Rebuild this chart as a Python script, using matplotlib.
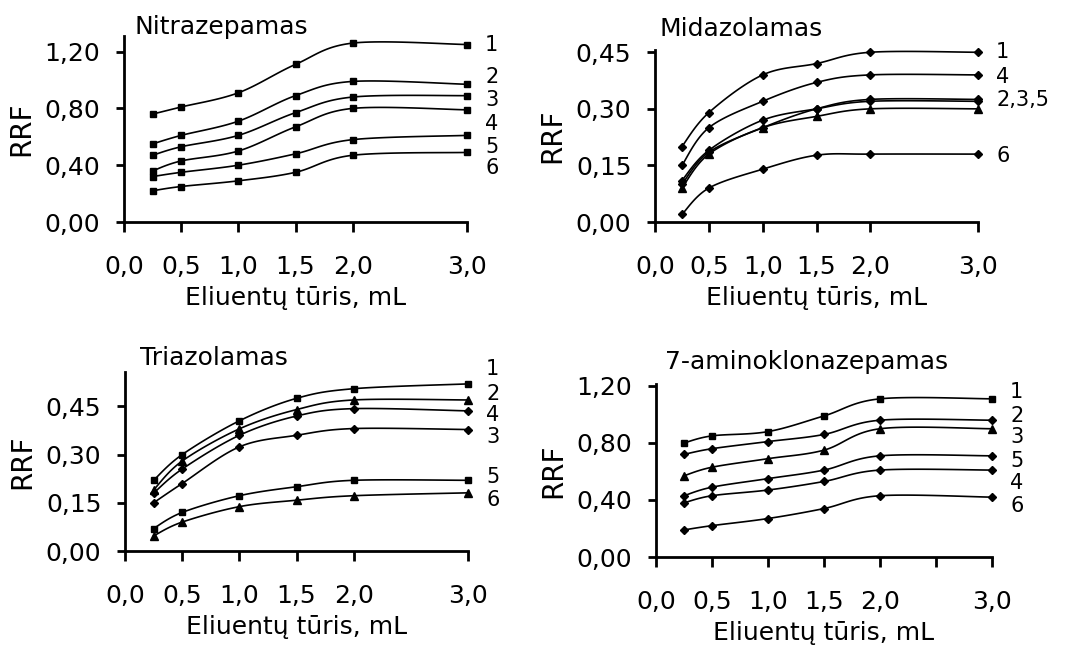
import numpy as np
import matplotlib
matplotlib.use("Agg")
import matplotlib.pyplot as plt

plt.rcParams['font.family'] = ['DejaVu Sans']

x = [0.25, 0.5, 1.0, 1.5, 2.0, 3.0]
xticks = [0.0, 0.5, 1.0, 1.5, 2.0, 3.0]
xticklabels = ['0,0', '0,5', '1,0', '1,5', '2,0', '3,0']
xlabel = 'Eliuentų tūris, mL'
ylabel = 'RRF'

# Nitrazepamas
nitra_vals = [
    [0.76, 0.81, 0.91, 1.11, 1.26, 1.25],
    [0.55, 0.61, 0.71, 0.89, 0.99, 0.97],
    [0.47, 0.53, 0.61, 0.77, 0.88, 0.89],
    [0.36, 0.43, 0.50, 0.67, 0.80, 0.79],
    [0.32, 0.35, 0.40, 0.48, 0.58, 0.61],
    [0.22, 0.25, 0.29, 0.35, 0.47, 0.49],
]
nitra_marks = ['s', 's', 's', 's', 's', 's']
nitra_lab_y = [1.25, 1.02, 0.86, 0.69, 0.53, 0.38]
nitra_labels = ['1', '2', '3', '4', '5', '6']
nitra_yticks = [0.0, 0.4, 0.8, 1.2]
nitra_yticklabels = ['0,00', '0,40', '0,80', '1,20']

# Midazolamas
mida_vals = [
    [0.20, 0.29, 0.39, 0.42, 0.45, 0.45],
    [0.15, 0.25, 0.32, 0.37, 0.39, 0.39],
    [0.11, 0.19, 0.27, 0.30, 0.32, 0.32],
    [0.10, 0.185, 0.25, 0.30, 0.325, 0.325],
    [0.09, 0.18, 0.25, 0.28, 0.30, 0.30],
    [0.02, 0.09, 0.14, 0.177, 0.18, 0.18],
]
mida_marks = ['D', 'D', 'D', 'D', '^', 'D']
mida_lab_y = [0.45, 0.385, 0.323, 0.176]
mida_labels = ['1', '4', '2,3,5', '6']
mida_yticks = [0.0, 0.15, 0.30, 0.45]
mida_yticklabels = ['0,00', '0,15', '0,30', '0,45']

# Triazolamas
tria_vals = [
    [0.22, 0.30, 0.405, 0.475, 0.505, 0.52],
    [0.19, 0.28, 0.38, 0.44, 0.47, 0.47],
    [0.18, 0.255, 0.36, 0.42, 0.443, 0.436],
    [0.15, 0.21, 0.324, 0.36, 0.381, 0.378],
    [0.07, 0.12, 0.172, 0.20, 0.22, 0.22],
    [0.047, 0.09, 0.138, 0.158, 0.172, 0.181],
]
tria_marks = ['s', '^', 'D', 'D', 's', '^']
tria_lab_y = [0.567, 0.489, 0.422, 0.355, 0.231, 0.158]
tria_labels = ['1', '2', '4', '3', '5', '6']
tria_yticks = [0.0, 0.15, 0.30, 0.45]
tria_yticklabels = ['0,00', '0,15', '0,30', '0,45']

# 7-aminoklonazepamas
amino_vals = [
    [0.80, 0.85, 0.88, 0.99, 1.11, 1.11],
    [0.72, 0.76, 0.81, 0.86, 0.96, 0.96],
    [0.57, 0.63, 0.69, 0.75, 0.90, 0.90],
    [0.43, 0.49, 0.55, 0.61, 0.71, 0.71],
    [0.38, 0.43, 0.47, 0.53, 0.61, 0.61],
    [0.19, 0.22, 0.27, 0.34, 0.43, 0.42],
]
amino_marks = ['s', 'D', '^', 'D', 'D', 'D']
amino_lab_y = [1.16, 0.99, 0.84, 0.675, 0.52, 0.36]
amino_labels = ['1', '2', '3', '5', '4', '6']
amino_yticks = [0.0, 0.4, 0.8, 1.2]
amino_yticklabels = ['0,00', '0,40', '0,80', '1,20']


def smooth(xs, ys, n=25):
    # excel-like smoothed line (bezier through the points)
    xs = np.asarray(xs, float)
    ys = np.asarray(ys, float)
    px = np.concatenate([[xs[0]], xs, [xs[-1]]])
    py = np.concatenate([[ys[0]], ys, [ys[-1]]])
    t = np.linspace(0, 1, n)
    ox, oy = [], []
    for i in range(len(xs) - 1):
        x0, x1, x2, x3 = px[i], px[i+1], px[i+2], px[i+3]
        y0, y1, y2, y3 = py[i], py[i+1], py[i+2], py[i+3]
        c1x = x1 + (x2 - x0) / 6
        c1y = y1 + (y2 - y0) / 6
        c2x = x2 - (x3 - x1) / 6
        c2y = y2 - (y3 - y1) / 6
        bx = (1-t)**3*x1 + 3*(1-t)**2*t*c1x + 3*(1-t)*t**2*c2x + t**3*x2
        by = (1-t)**3*y1 + 3*(1-t)**2*t*c1y + 3*(1-t)*t**2*c2y + t**3*y2
        ox.extend(bx)
        oy.extend(by)
    return ox, oy


W, H = 1070, 645
fig = plt.figure(figsize=(W/100, H/100), dpi=100)
FS = 18


def panel(left, right, bottom, top, ytop, vals, marks, lab_y, labels,
          yticks, yticklabels, title, tx, ty, extra_tick=False):
    ax = fig.add_axes([left/W, 1 - bottom/H, (right-left)/W, (bottom-top)/H])
    for v, m in zip(vals, marks):
        sx, sy = smooth(x, v)
        ax.plot(sx, sy, color='black', lw=1.2, clip_on=False)
        ms = 5.5 if m == '^' else 4.5
        ax.plot(x, v, ls='none', marker=m, ms=ms, color='black', clip_on=False)
    for yy, lab in zip(lab_y, labels):
        ax.annotate(lab, (3.0, yy), xytext=(13, 0), textcoords='offset points',
                    ha='left', va='center', fontsize=15, annotation_clip=False)
    ax.set_xlim(0, 3.0)
    ax.set_ylim(0, ytop)
    ticks = list(xticks)
    labs = list(xticklabels)
    if extra_tick:
        ticks.append(2.5)
        labs.append('')
    ax.set_xticks(ticks)
    ax.set_xticklabels(labs)
    ax.set_yticks(yticks)
    ax.set_yticklabels(yticklabels)
    ax.spines['top'].set_visible(False)
    ax.spines['right'].set_visible(False)
    ax.spines['left'].set_linewidth(2)
    ax.spines['bottom'].set_linewidth(2)
    ax.tick_params(axis='x', direction='out', length=7, width=2, pad=17, labelsize=FS)
    ax.tick_params(axis='y', direction='out', length=6, width=2, pad=11, labelsize=FS)
    ax.set_xlabel(xlabel, fontsize=FS, labelpad=5)
    ax.set_ylabel(ylabel, fontsize=20, labelpad=7)
    fig.text(tx/W, 1 - ty/H, title, fontsize=FS, ha='left', va='baseline')
    return ax


panel(124, 467, 222, 36, 1.31, nitra_vals, nitra_marks, nitra_lab_y, nitra_labels,
      nitra_yticks, nitra_yticklabels, 'Nitrazepamas', 135, 34)
panel(655, 978, 222, 50, 0.456, mida_vals, mida_marks, mida_lab_y, mida_labels,
      mida_yticks, mida_yticklabels, 'Midazolamas', 660, 36)
panel(125, 468, 551, 372, 0.557, tria_vals, tria_marks, tria_lab_y, tria_labels,
      tria_yticks, tria_yticklabels, 'Triazolamas', 140, 365)
panel(656, 992, 557, 384, 1.214, amino_vals, amino_marks, amino_lab_y, amino_labels,
      amino_yticks, amino_yticklabels, '7-aminoklonazepamas', 665, 369, extra_tick=True)

fig.savefig('out.png', dpi=100)
